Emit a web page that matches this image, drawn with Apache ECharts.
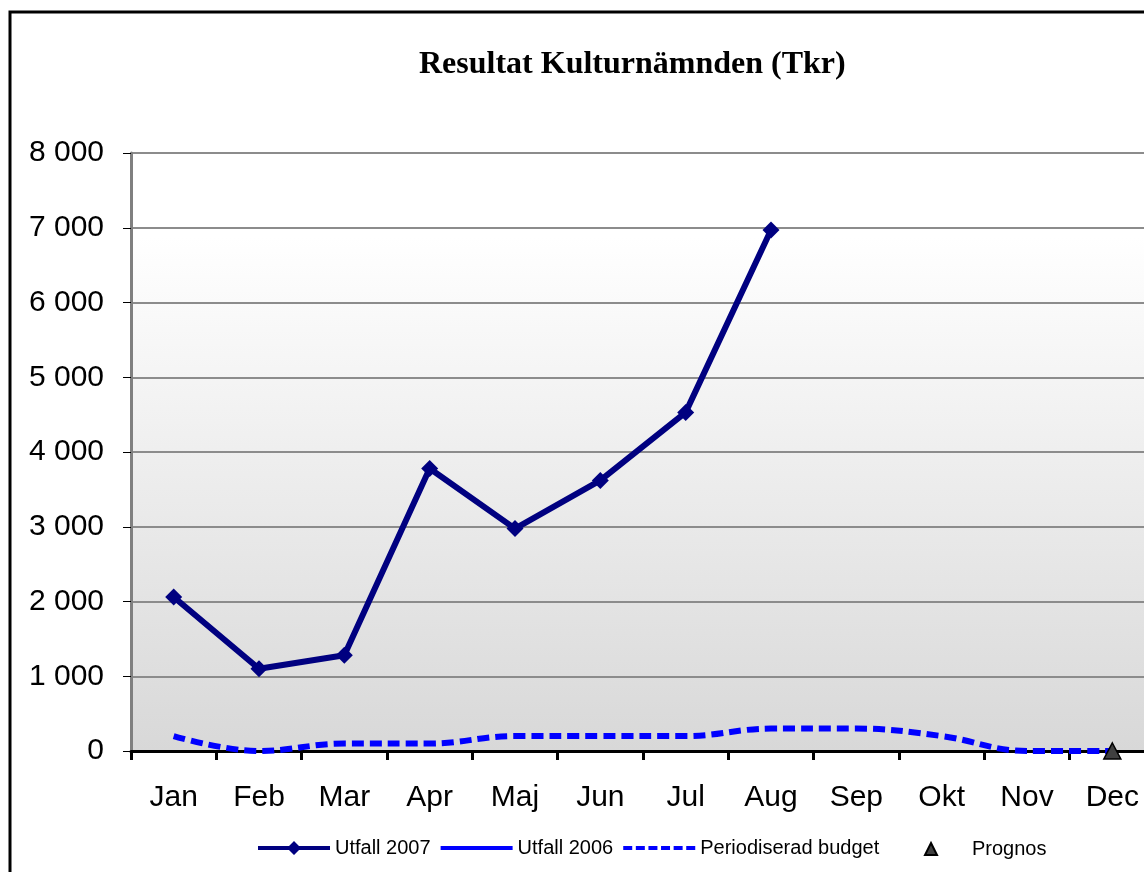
<!DOCTYPE html>
<html>
<head>
<meta charset="utf-8">
<script src="https://cdn.jsdelivr.net/npm/echarts@6/dist/echarts.min.js"></script>
<style>
  html, body { margin: 0; padding: 0; background: #fff; }
  #chart { width: 1144px; height: 872px; }
</style>
</head>
<body>
<div id="chart"></div>
<script>
// months on the x axis
const months = ["Jan", "Feb", "Mar", "Apr", "Maj", "Jun", "Jul", "Aug", "Sep", "Okt", "Nov", "Dec"];

// values in Tkr
const utfall2007 = [2060, 1100, 1280, 3780, 2975, 3620, 4530, 6970];
const utfall2006 = [];
const budget = [200, 0, 100, 100, 200, 200, 200, 300, 300, 200, 0, 0];
const prognos = [null, null, null, null, null, null, null, null, null, null, null, 0];

const yTicks = [0, 1000, 2000, 3000, 4000, 5000, 6000, 7000, 8000];

const chart = echarts.init(document.getElementById("chart"));

// "8 000" style
function fmt(v) {
  return String(v).replace(/\B(?=(\d{3})+(?!\d))/g, " ");
}

// legend icons, the tiny slivers at top/bottom keep the same box for all three
const pad = " M36,0 L36.01,0 L36,0.01 Z M36,16 L36.01,16 L36,15.99 Z";
const iconDiamondLine = "path://M0,6 L72,6 L72,10 L0,10 Z M36,1 L43,8 L36,15 L29,8 Z" + pad;
const iconSolid = "path://M0,6 L72,6 L72,10 L0,10 Z" + pad;
const iconDashed = "path://M0,6 h9 v4 h-9 Z M12.6,6 h9 v4 h-9 Z M25.2,6 h9 v4 h-9 Z M37.8,6 h9 v4 h-9 Z M50.4,6 h9 v4 h-9 Z M63,6 h9 v4 h-9 Z" + pad;

const option = {
  backgroundColor: "#fff",
  animation: false,
  title: {
    text: "Resultat Kulturnämnden (Tkr)",
    left: 419,
    top: 49,
    padding: 0,
    textStyle: {
      fontFamily: "Liberation Serif",
      fontWeight: "bold",
      fontSize: 32,
      color: "#000",
    },
  },
  graphic: [
    {
      // outer frame, right and bottom edges fall outside the picture
      type: "rect",
      shape: { x: 10, y: 12, width: 1200, height: 900 },
      style: { fill: null, stroke: "#000", lineWidth: 3 },
      silent: true,
    },
  ],
  legend: [
    {
      data: [
        { name: "Utfall 2007", icon: iconDiamondLine },
        { name: "Utfall 2006", icon: iconSolid },
        { name: "Periodiserad budget", icon: iconDashed },
      ],
      left: 258,
      top: 838,
      padding: 0,
      itemWidth: 72,
      itemHeight: 16,
      itemGap: 10,
      textStyle: { fontFamily: "Liberation Sans", fontSize: 20, color: "#000" },
    },
    {
      data: [{ name: "Prognos", icon: "triangle" }],
      left: 924,
      top: 839,
      padding: 0,
      itemWidth: 12,
      itemHeight: 12,
      textStyle: {
        fontFamily: "Liberation Sans",
        fontSize: 20,
        color: "#000",
        padding: [0, 0, 0, 30],
      },
    },
  ],
  grid: {
    left: 131,
    top: 153,
    width: 1024,
    bottom: 121,
    outerBoundsMode: "none",
    show: true,
    borderWidth: 0,
    backgroundColor: {
      type: "linear",
      x: 0, y: 0, x2: 0, y2: 1,
      colorStops: [
        { offset: 0, color: "#ffffff" },
        { offset: 0.14, color: "#ffffff" },
        { offset: 1, color: "#d8d8d8" },
      ],
    },
  },
  xAxis: {
    type: "category",
    data: months,
    boundaryGap: true,
    axisLine: { lineStyle: { color: "#000", width: 3 } },
    axisTick: { show: true, length: 9, lineStyle: { color: "#000", width: 3 } },
    axisLabel: {
      margin: 32,
      fontFamily: "Liberation Sans",
      fontSize: 30,
      color: "#000",
      interval: 0,
    },
  },
  yAxis: {
    type: "value",
    min: yTicks[0],
    max: yTicks[yTicks.length - 1],
    interval: 1000,
    axisLine: { show: true, lineStyle: { color: "#808080", width: 3 } },
    axisTick: { show: true, length: 8, lineStyle: { color: "#000", width: 1 } },
    axisLabel: {
      margin: 27,
      fontFamily: "Liberation Sans",
      fontSize: 30,
      color: "#000",
      formatter: fmt,
    },
    splitLine: { lineStyle: { color: "#8c8c8c", width: 2 } },
  },
  series: [
    {
      name: "Utfall 2007",
      type: "line",
      data: utfall2007,
      color: "#000080",
      lineStyle: { width: 6, color: "#000080" },
      symbol: "diamond",
      symbolSize: 17,
      itemStyle: { color: "#000080" },
      z: 4,
    },
    {
      name: "Utfall 2006",
      type: "line",
      data: utfall2006,
      color: "#0000ff",
      lineStyle: { width: 4, color: "#0000ff" },
      symbol: "none",
    },
    {
      name: "Periodiserad budget",
      type: "line",
      data: budget,
      color: "#0000ff",
      smooth: 0.4,
      symbol: "none",
      lineStyle: { width: 6, color: "#0000ff", type: [12, 6] },
      z: 3,
    },
    {
      name: "Prognos",
      type: "line",
      data: prognos,
      symbol: "triangle",
      symbolSize: [17, 16],
      lineStyle: { width: 0 },
      itemStyle: { color: "#404040", borderColor: "#000", borderWidth: 1.5 },
      z: 5,
    },
  ],
};

chart.setOption(option);
</script>
</body>
</html>
